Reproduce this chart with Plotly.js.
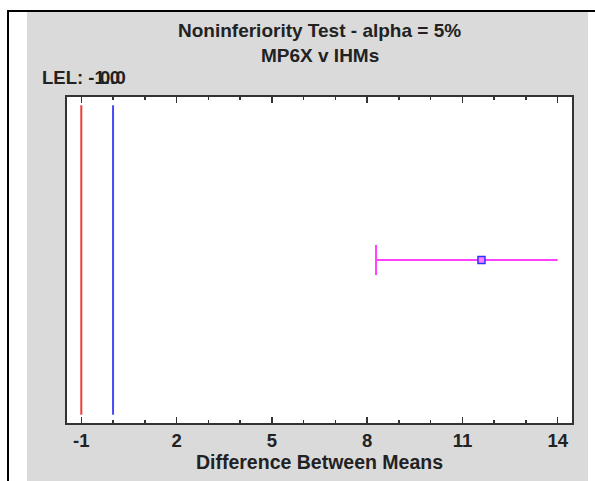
<!DOCTYPE html>
<html><head><meta charset="utf-8">
<script src="https://cdn.plot.ly/plotly-3.0.1.min.js"></script>
<style>
html,body{margin:0;padding:0;background:#fff;}
#wrap{position:relative;width:595px;height:481px;overflow:hidden;}
#gray{position:absolute;left:27px;top:11px;width:561px;height:470px;background:#dadada;}
#bl{position:absolute;left:7px;top:10px;width:2px;height:471px;background:#000;}
#bt{position:absolute;left:7px;top:10px;width:588px;height:2px;background:#000;}
#chart{position:absolute;left:0;top:0;width:595px;height:481px;}
</style></head>
<body><div id="wrap"><div id="gray"></div><div id="bl"></div><div id="bt"></div><div id="chart"></div></div>
<script>
const titleLines = ['Noninferiority Test - alpha = 5%', 'MP6X v IHMs'];
const xTitle = 'Difference Between Means';
const limitValues = [-1.0, 0.0];
const limitLabels = ['LEL: -1.0', '0.0'];
const limitColors = ['#f03c3c', '#4848f8'];
const lowerBound = 8.28;
const estimate = 11.6;
const upperEnd = 14.0;
const tickVals = [-1, 2, 5, 8, 11, 14];

const traces = [];
limitValues.forEach((v, i) => {
  traces.push({x: [v, v], y: [0.025, 0.975], mode: 'lines', type: 'scatter',
    line: {color: limitColors[i], width: 2}, hoverinfo: 'skip', showlegend: false});
});
traces.push({x: [lowerBound, upperEnd], y: [0.5, 0.5], mode: 'lines', type: 'scatter',
  line: {color: '#ff40ff', width: 2}, showlegend: false});
traces.push({x: [lowerBound, lowerBound], y: [0.454, 0.546], mode: 'lines', type: 'scatter',
  line: {color: '#ff40ff', width: 2}, showlegend: false});
traces.push({x: [estimate], y: [0.5], mode: 'markers', type: 'scatter',
  marker: {symbol: 'square', size: 7, color: '#ff80ff', line: {color: '#3030ff', width: 1.5}}, showlegend: false});

const fam = 'Liberation Sans, Arial, sans-serif';
const font = {family: fam, color: '#222', size: 18.5};
const titleFont = {family: fam, color: '#222', size: 19};
const annotations = [
  {text: '<b>' + titleLines[0] + '</b>', x: 0.5, y: (423 - 30) / 326, xref: 'paper', yref: 'paper',
   xanchor: 'center', yanchor: 'middle', showarrow: false, font: titleFont},
  {text: '<b>' + titleLines[1] + '</b>', x: 0.5, y: (423 - 55) / 326, xref: 'paper', yref: 'paper',
   xanchor: 'center', yanchor: 'middle', showarrow: false, font: titleFont}
];
limitValues.forEach((v, i) => {
  annotations.push({text: '<b>' + limitLabels[i] + '</b>', x: v, y: (423 - 78) / 326, xref: 'x', yref: 'paper',
    xanchor: 'center', yanchor: 'middle', showarrow: false, font: font});
});

const layout = {
  width: 595, height: 481,
  margin: {l: 67, r: 23, t: 97, b: 58},
  paper_bgcolor: 'rgba(0,0,0,0)', plot_bgcolor: '#fff',
  xaxis: {range: [-1.45, 14.45], tickvals: tickVals, ticktext: tickVals.map(v => '<b>' + v + '</b>'),
    showline: true, linecolor: '#333', linewidth: 2, mirror: 'allticks',
    ticks: 'inside', ticklen: 6, tickwidth: 1.5, tickcolor: '#333',
    minor: {dtick: 1, tick0: -1, ticks: 'inside', ticklen: 3, tickwidth: 1.5, tickcolor: '#333'},
    showgrid: false, zeroline: false, tickfont: font,
    title: {text: '<b>' + xTitle + '</b>', font: {family: fam, color: '#222', size: 19.5}, standoff: 3}},
  yaxis: {range: [0, 1], showline: true, linecolor: '#333', linewidth: 2, mirror: true,
    showticklabels: false, ticks: '', showgrid: false, zeroline: false},
  annotations: annotations
};
Plotly.newPlot('chart', traces, layout, {displayModeBar: false, staticPlot: true});
</script></body></html>
